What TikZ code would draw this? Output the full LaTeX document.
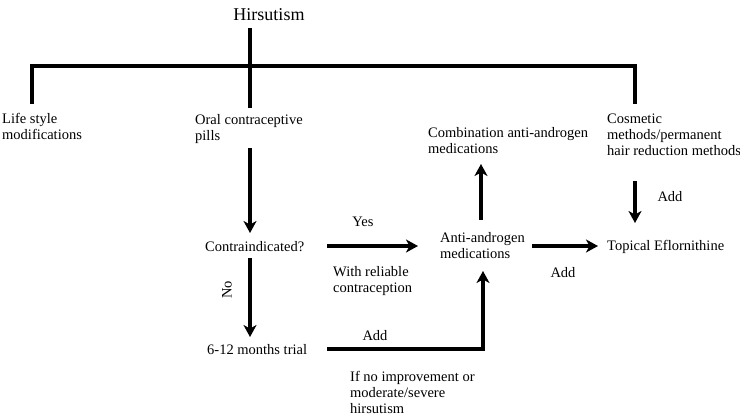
\documentclass[tikz,border=0pt]{standalone}
\usepackage{fontspec}
\setmainfont{Liberation Serif}
\newfontfamily\tnr{Liberation Serif}
\usetikzlibrary{arrows.meta,calc}
\begin{document}
\begin{tikzpicture}[x=1pt,y=-1pt,
  lbl/.style={inner sep=0pt, align=left, font=\tnr\fontsize{14.5}{16}\selectfont, anchor=west},
  clbl/.style={inner sep=0pt, font=\tnr\fontsize{14.5}{16}\selectfont},
  bar/.style={line width=3.4pt, line join=miter},
  arr/.style={line width=3.4pt, -{Stealth[length=12pt,width=13pt,inset=3.5pt]}}]
\useasboundingbox (0,0) rectangle (740,418);
\fill[white] (0,0) rectangle (740,418);
% texts
\node[clbl, font=\tnr\fontsize{18}{20}\selectfont] (hirs) at (269,15) {Hirsutism};
\node[lbl] (life) at (2,126) {Life style\\modifications};
\node[lbl] (ocp) at (195,129) {Oral contraceptive\\pills};
\node[lbl] (cos) at (607,135) {Cosmetic\\methods/permanent\\hair reduction methods};
\node[lbl] (comb) at (428,141) {Combination anti-androgen\\medications};
\node[lbl] (contra) at (205,247) {Contraindicated?};
\node[clbl] (yes) at (363,222) {Yes};
\node[lbl] (rel) at (333,281) {With reliable\\contraception};
\node[clbl, rotate=90] (no) at (227,290) {No};
\node[lbl] (trial) at (207,350) {6-12 months trial};
\node[clbl] (add1) at (375,336) {Add};
\node[lbl] (ifno) at (350,392) {If no improvement or\\moderate/severe\\hirsutism};
\node[lbl] (anti) at (440,246) {Anti-androgen\\medications};
\node[clbl] (add2) at (563,273) {Add};
\node[lbl] (top) at (607,247) {Topical Eflornithine};
\node[clbl] (add3) at (670,197) {Add};
% tree
\coordinate (t0) at (250,28);
\coordinate (t1) at (250,66);
\coordinate (l0) at (32,66);
\coordinate (l1) at (32,104);
\coordinate (r0) at (635,66);
\coordinate (r1) at (635,104);
\coordinate (c1) at (250,108);
\draw[bar] (t0) -- (c1);
\draw[bar] (l1) -- (l0) -- (r0) -- (r1);
% arrows
\coordinate (a1s) at (250,148);
\coordinate (a1e) at (250,233);
\draw[arr] (a1s) -- (a1e);
\coordinate (a2s) at (327,246);
\coordinate (a2e) at (418,246);
\draw[arr] (a2s) -- (a2e);
\coordinate (a3s) at (250,258);
\coordinate (a3e) at (250,337);
\draw[arr] (a3s) -- (a3e);
\coordinate (a4s) at (327,349);
\coordinate (a4c) at (483,349);
\coordinate (a4e) at (483,271);
\draw[arr, line join=miter] (a4s) -- (a4c) -- (a4e);
\coordinate (a5s) at (481,220);
\coordinate (a5e) at (481,164);
\draw[arr] (a5s) -- (a5e);
\coordinate (a6s) at (532,246);
\coordinate (a6e) at (598,246);
\draw[arr] (a6s) -- (a6e);
\coordinate (a7s) at (635,181);
\coordinate (a7e) at (635,223);
\draw[arr] (a7s) -- (a7e);
\end{tikzpicture}
\end{document}
